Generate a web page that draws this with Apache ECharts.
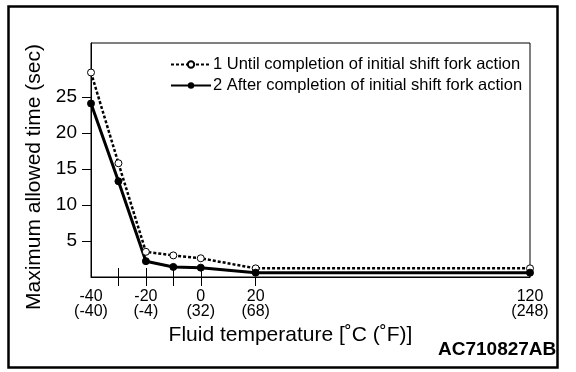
<!DOCTYPE html>
<html><head><meta charset="utf-8">
<script src="https://cdn.jsdelivr.net/npm/echarts@6/dist/echarts.min.js"></script>
<style>html,body{margin:0;padding:0;background:#fff}#c{width:576px;height:372px}</style>
</head><body><div id="c"></div>
<script>
const tempsC = [-40, -30, -20, -10, 0, 20, 120];
const series1Name = '1 Until completion of initial shift fork action';
const series2Name = '2 After completion of initial shift fork action';
const series1 = [28.4, 15.8, 3.5, 3.0, 2.6, 1.2, 1.2];
const series2 = [24.1, 13.3, 2.2, 1.4, 1.3, 0.6, 0.6];
const xLabelValues = [-40, -20, 0, 20, 120];
const xLabelF = ['(-40)', '(-4)', '(32)', '(68)', '(248)'];
const xTickValues = [-30, -20, -10, 0, 20];
const xInsideTickValues = [-30, -20, -10, 0];
const yTicks = [5, 10, 15, 20, 25];

const font = 'Liberation Sans, Arial, sans-serif';
const chart = echarts.init(document.getElementById('c'));
const pts = a => tempsC.map((t, i) => [t, a[i]]);
chart.setOption({
  animation: false,
  backgroundColor: '#fff',
  graphic: [
    {type: 'rect', shape: {x: 8.5, y: 6.5, width: 549, height: 361}, style: {fill: 'none', stroke: '#000', lineWidth: 2.5}},
    {type: 'text', left: 438, top: 340, style: {text: 'AC710827AB', font: 'bold 19px ' + font, fill: '#000'}}
  ],
  grid: {left: 91, right: 46, top: 43, bottom: 95, show: true, borderColor: '#000', borderWidth: 1},
  legend: {
    orient: 'vertical', left: 165, top: 51, itemGap: 4, itemWidth: 40, itemHeight: 8,
    textStyle: {fontFamily: font, fontSize: 16.5, color: '#000', padding: [0, 0, 0, -3]},
    data: [series1Name, series2Name]
  },
  xAxis: [{
    type: 'value', min: -40, max: 120,
    axisLine: {onZero: false, lineStyle: {color: '#000', width: 1}},
    splitLine: {show: false},
    axisTick: {show: true, customValues: xTickValues, length: 9, lineStyle: {color: '#000'}},
    axisLabel: {
      customValues: xLabelValues, margin: 12,
      fontFamily: font, fontSize: 16, color: '#000', lineHeight: 15,
      formatter: v => v + '\n' + xLabelF[xLabelValues.indexOf(v)]
    },
    name: 'Fluid temperature [˚C (˚F)]', nameLocation: 'middle', nameGap: 45,
    nameTextStyle: {fontFamily: font, fontSize: 21, color: '#000', padding: [0, 0, 0, -40]}
  }, {
    type: 'value', min: -40, max: 120, position: 'bottom',
    axisLine: {show: false}, splitLine: {show: false}, axisLabel: {show: false},
    axisTick: {show: true, inside: true, customValues: xInsideTickValues, length: 9, lineStyle: {color: '#000'}}
  }],
  yAxis: {
    type: 'value', min: 0, max: 32.5,
    axisLine: {show: true, onZero: false, lineStyle: {color: '#000', width: 1}},
    splitLine: {show: false},
    axisTick: {show: true, customValues: yTicks, length: 9, lineStyle: {color: '#000'}},
    axisLabel: {customValues: yTicks, fontFamily: font, fontSize: 19, color: '#000', margin: 14},
    name: 'Maximum allowed time (sec)', nameLocation: 'middle', nameGap: 46,
    nameTextStyle: {fontFamily: font, fontSize: 21, color: '#000', padding: [0, 0, 0, -34]}
  },
  series: [{
    name: series1Name, type: 'line', data: pts(series1),
    symbol: 'circle', symbolSize: 7,
    lineStyle: {color: '#000', width: 2.5, type: [3, 2]},
    itemStyle: {color: '#fff', borderColor: '#000', borderWidth: 1}
  }, {
    name: series2Name, type: 'line', data: pts(series2),
    symbol: 'circle', symbolSize: 7,
    lineStyle: {color: '#000', width: 3},
    itemStyle: {color: '#000', borderColor: '#000'}
  }]
});
</script></body></html>
